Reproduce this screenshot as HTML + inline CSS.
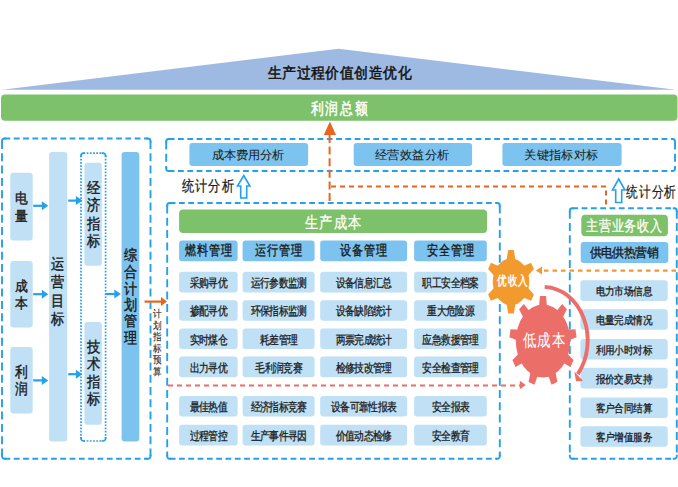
<!DOCTYPE html>
<html><head><meta charset="utf-8"><style>
html,body{margin:0;padding:0;background:#fff;}
svg{display:block;font-family:"Liberation Sans",sans-serif;}
</style></head><body>
<svg width="678" height="487" viewBox="0 0 678 487">
<rect width="678" height="487" fill="#fff"/>
<polygon points="2,89.8 338.5,48.8 676,89.8" fill="#9fbae2"/>
<text x="274.75" y="77.74" font-size="14.69" fill="#111" text-anchor="middle" textLength="13.83" lengthAdjust="spacingAndGlyphs" stroke="#111" stroke-width="0.5">生</text>
<text x="289.16" y="77.74" font-size="14.69" fill="#111" text-anchor="middle" textLength="13.83" lengthAdjust="spacingAndGlyphs" stroke="#111" stroke-width="0.5">产</text>
<text x="303.57" y="77.74" font-size="14.69" fill="#111" text-anchor="middle" textLength="13.83" lengthAdjust="spacingAndGlyphs" stroke="#111" stroke-width="0.5">过</text>
<text x="317.98" y="77.74" font-size="14.69" fill="#111" text-anchor="middle" textLength="13.83" lengthAdjust="spacingAndGlyphs" stroke="#111" stroke-width="0.5">程</text>
<text x="332.39" y="77.74" font-size="14.69" fill="#111" text-anchor="middle" textLength="13.83" lengthAdjust="spacingAndGlyphs" stroke="#111" stroke-width="0.5">价</text>
<text x="346.81" y="77.74" font-size="14.69" fill="#111" text-anchor="middle" textLength="13.83" lengthAdjust="spacingAndGlyphs" stroke="#111" stroke-width="0.5">值</text>
<text x="361.22" y="77.74" font-size="14.69" fill="#111" text-anchor="middle" textLength="13.83" lengthAdjust="spacingAndGlyphs" stroke="#111" stroke-width="0.5">创</text>
<text x="375.63" y="77.74" font-size="14.69" fill="#111" text-anchor="middle" textLength="13.83" lengthAdjust="spacingAndGlyphs" stroke="#111" stroke-width="0.5">造</text>
<text x="390.04" y="77.74" font-size="14.69" fill="#111" text-anchor="middle" textLength="13.83" lengthAdjust="spacingAndGlyphs" stroke="#111" stroke-width="0.5">优</text>
<text x="404.45" y="77.74" font-size="14.69" fill="#111" text-anchor="middle" textLength="13.83" lengthAdjust="spacingAndGlyphs" stroke="#111" stroke-width="0.5">化</text>
<rect x="1" y="94.6" width="676.5" height="26.2" rx="4" fill="#7dc16a"/>
<text x="317.20" y="114.16" font-size="16.15" fill="#fff" text-anchor="middle" textLength="12.77" lengthAdjust="spacingAndGlyphs" stroke="#fff" stroke-width="0.5">利</text>
<text x="331.80" y="114.16" font-size="16.15" fill="#fff" text-anchor="middle" textLength="12.77" lengthAdjust="spacingAndGlyphs" stroke="#fff" stroke-width="0.5">润</text>
<text x="346.40" y="114.16" font-size="16.15" fill="#fff" text-anchor="middle" textLength="12.77" lengthAdjust="spacingAndGlyphs" stroke="#fff" stroke-width="0.5">总</text>
<text x="361.00" y="114.16" font-size="16.15" fill="#fff" text-anchor="middle" textLength="12.77" lengthAdjust="spacingAndGlyphs" stroke="#fff" stroke-width="0.5">额</text>
<path d="M4.5,138.5 H148.0 M4.5,458.8 H148.0" fill="none" stroke="#25a0ea" stroke-width="1.9" stroke-dasharray="5.8 3.5"/>
<path d="M2,141.0 V456.3 M150.5,141.0 V456.3" fill="none" stroke="#25a0ea" stroke-width="1.9" stroke-dasharray="8 4.3"/>
<path d="M2,142.5 V141.0 A2.5,2.5 0 0 1 4.5,138.5 H6.0 M146.5,138.5 H148.0 A2.5,2.5 0 0 1 150.5,141.0 V142.5 M150.5,454.8 V456.3 A2.5,2.5 0 0 1 148.0,458.8 H146.5 M6.0,458.8 H4.5 A2.5,2.5 0 0 1 2,456.3 V454.8" fill="none" stroke="#25a0ea" stroke-width="1.9"/>
<rect x="10.3" y="172.8" width="22.4" height="67.7" rx="3" fill="#bfe0f5"/>
<rect x="10.3" y="261" width="22.4" height="66.4" rx="3" fill="#bfe0f5"/>
<rect x="10.3" y="347" width="22.4" height="66.5" rx="3" fill="#bfe0f5"/>
<rect x="49.1" y="152" width="18.2" height="289.4" rx="3" fill="#bfe0f5"/>
<rect x="84.4" y="162.8" width="17.4" height="102.9" rx="3" fill="#bfe0f5"/>
<rect x="84.4" y="322" width="17.4" height="102.8" rx="3" fill="#bfe0f5"/>
<rect x="121.6" y="151.9" width="17.7" height="289.5" rx="3" fill="#7cc4ef"/>
<path d="M83.5,153.1 H103.1 M83.5,441 H103.1" fill="none" stroke="#25a0ea" stroke-width="1.7" stroke-dasharray="1.7 1.5"/>
<path d="M81,155.6 V438.5 M105.6,155.6 V438.5" fill="none" stroke="#25a0ea" stroke-width="1.7" stroke-dasharray="1.7 1.5"/>
<path d="M81,157.1 V155.6 A2.5,2.5 0 0 1 83.5,153.1 H85.0 M101.6,153.1 H103.1 A2.5,2.5 0 0 1 105.6,155.6 V157.1 M105.6,437.0 V438.5 A2.5,2.5 0 0 1 103.1,441 H101.6 M85.0,441 H83.5 A2.5,2.5 0 0 1 81,438.5 V437.0" fill="none" stroke="#25a0ea" stroke-width="1.7"/>
<text x="21.80" y="203.18" font-size="13.54" fill="#1a1a1a" text-anchor="middle" textLength="12.77" lengthAdjust="spacingAndGlyphs" stroke="#1a1a1a" stroke-width="0.4">电</text>
<text x="21.80" y="220.68" font-size="13.54" fill="#1a1a1a" text-anchor="middle" textLength="12.77" lengthAdjust="spacingAndGlyphs" stroke="#1a1a1a" stroke-width="0.4">量</text>
<text x="21.80" y="290.77" font-size="13.54" fill="#1a1a1a" text-anchor="middle" textLength="12.77" lengthAdjust="spacingAndGlyphs" stroke="#1a1a1a" stroke-width="0.4">成</text>
<text x="21.80" y="307.98" font-size="13.54" fill="#1a1a1a" text-anchor="middle" textLength="12.77" lengthAdjust="spacingAndGlyphs" stroke="#1a1a1a" stroke-width="0.4">本</text>
<text x="21.80" y="377.25" font-size="14.58" fill="#1a1a1a" text-anchor="middle" textLength="12.77" lengthAdjust="spacingAndGlyphs" stroke="#1a1a1a" stroke-width="0.4">利</text>
<text x="21.80" y="394.15" font-size="14.58" fill="#1a1a1a" text-anchor="middle" textLength="12.77" lengthAdjust="spacingAndGlyphs" stroke="#1a1a1a" stroke-width="0.4">润</text>
<text x="57.80" y="269.25" font-size="14.58" fill="#1a1a1a" text-anchor="middle" textLength="13.30" lengthAdjust="spacingAndGlyphs" stroke="#1a1a1a" stroke-width="0.4">运</text>
<text x="57.80" y="286.85" font-size="14.58" fill="#1a1a1a" text-anchor="middle" textLength="13.30" lengthAdjust="spacingAndGlyphs" stroke="#1a1a1a" stroke-width="0.4">营</text>
<text x="57.80" y="305.65" font-size="14.58" fill="#1a1a1a" text-anchor="middle" textLength="13.30" lengthAdjust="spacingAndGlyphs" stroke="#1a1a1a" stroke-width="0.4">目</text>
<text x="57.80" y="323.75" font-size="14.58" fill="#1a1a1a" text-anchor="middle" textLength="13.30" lengthAdjust="spacingAndGlyphs" stroke="#1a1a1a" stroke-width="0.4">标</text>
<text x="93.60" y="192.91" font-size="14.90" fill="#1a1a1a" text-anchor="middle" textLength="13.30" lengthAdjust="spacingAndGlyphs" stroke="#1a1a1a" stroke-width="0.4">经</text>
<text x="93.60" y="210.31" font-size="14.90" fill="#1a1a1a" text-anchor="middle" textLength="13.30" lengthAdjust="spacingAndGlyphs" stroke="#1a1a1a" stroke-width="0.4">济</text>
<text x="93.60" y="228.81" font-size="14.90" fill="#1a1a1a" text-anchor="middle" textLength="13.30" lengthAdjust="spacingAndGlyphs" stroke="#1a1a1a" stroke-width="0.4">指</text>
<text x="93.60" y="246.21" font-size="14.90" fill="#1a1a1a" text-anchor="middle" textLength="13.30" lengthAdjust="spacingAndGlyphs" stroke="#1a1a1a" stroke-width="0.4">标</text>
<text x="93.60" y="352.01" font-size="14.90" fill="#1a1a1a" text-anchor="middle" textLength="13.30" lengthAdjust="spacingAndGlyphs" stroke="#1a1a1a" stroke-width="0.4">技</text>
<text x="93.60" y="369.41" font-size="14.90" fill="#1a1a1a" text-anchor="middle" textLength="13.30" lengthAdjust="spacingAndGlyphs" stroke="#1a1a1a" stroke-width="0.4">术</text>
<text x="93.60" y="386.91" font-size="14.90" fill="#1a1a1a" text-anchor="middle" textLength="13.30" lengthAdjust="spacingAndGlyphs" stroke="#1a1a1a" stroke-width="0.4">指</text>
<text x="93.60" y="404.31" font-size="14.90" fill="#1a1a1a" text-anchor="middle" textLength="13.30" lengthAdjust="spacingAndGlyphs" stroke="#1a1a1a" stroke-width="0.4">标</text>
<text x="130.70" y="259.75" font-size="14.58" fill="#1a1a1a" text-anchor="middle" textLength="13.09" lengthAdjust="spacingAndGlyphs" stroke="#1a1a1a" stroke-width="0.4">综</text>
<text x="130.70" y="276.75" font-size="14.58" fill="#1a1a1a" text-anchor="middle" textLength="13.09" lengthAdjust="spacingAndGlyphs" stroke="#1a1a1a" stroke-width="0.4">合</text>
<text x="130.70" y="293.75" font-size="14.58" fill="#1a1a1a" text-anchor="middle" textLength="13.09" lengthAdjust="spacingAndGlyphs" stroke="#1a1a1a" stroke-width="0.4">计</text>
<text x="130.70" y="310.25" font-size="14.58" fill="#1a1a1a" text-anchor="middle" textLength="13.09" lengthAdjust="spacingAndGlyphs" stroke="#1a1a1a" stroke-width="0.4">划</text>
<text x="130.70" y="326.45" font-size="14.58" fill="#1a1a1a" text-anchor="middle" textLength="13.09" lengthAdjust="spacingAndGlyphs" stroke="#1a1a1a" stroke-width="0.4">管</text>
<text x="130.70" y="343.05" font-size="14.58" fill="#1a1a1a" text-anchor="middle" textLength="13.09" lengthAdjust="spacingAndGlyphs" stroke="#1a1a1a" stroke-width="0.4">理</text>
<line x1="33.2" y1="205.8" x2="42.3" y2="205.8" stroke="#25a0ea" stroke-width="2.2"/>
<polygon points="48.3,205.8 41.8,201.3 41.8,210.3" fill="#25a0ea"/>
<line x1="33.2" y1="294.2" x2="42.3" y2="294.2" stroke="#25a0ea" stroke-width="2.2"/>
<polygon points="48.3,294.2 41.8,289.7 41.8,298.7" fill="#25a0ea"/>
<line x1="33.2" y1="380.4" x2="42.3" y2="380.4" stroke="#25a0ea" stroke-width="2.2"/>
<polygon points="48.3,380.4 41.8,375.9 41.8,384.9" fill="#25a0ea"/>
<line x1="68.2" y1="200.6" x2="76.4" y2="200.6" stroke="#25a0ea" stroke-width="2.2"/>
<polygon points="82.4,200.6 75.9,196.1 75.9,205.1" fill="#25a0ea"/>
<line x1="68.2" y1="374.2" x2="76.4" y2="374.2" stroke="#25a0ea" stroke-width="2.2"/>
<polygon points="82.4,374.2 75.9,369.7 75.9,378.7" fill="#25a0ea"/>
<line x1="105.8" y1="294" x2="114.8" y2="294" stroke="#25a0ea" stroke-width="2.2"/>
<polygon points="120.8,294 114.3,289.5 114.3,298.5" fill="#25a0ea"/>
<text x="156.80" y="317.12" font-size="9.79" fill="#2a2a2a" text-anchor="middle" textLength="8.51" lengthAdjust="spacingAndGlyphs" stroke="#2a2a2a" stroke-width="0.15">计</text>
<text x="156.80" y="328.62" font-size="9.79" fill="#2a2a2a" text-anchor="middle" textLength="8.51" lengthAdjust="spacingAndGlyphs" stroke="#2a2a2a" stroke-width="0.15">划</text>
<text x="156.80" y="340.12" font-size="9.79" fill="#2a2a2a" text-anchor="middle" textLength="8.51" lengthAdjust="spacingAndGlyphs" stroke="#2a2a2a" stroke-width="0.15">指</text>
<text x="156.80" y="351.62" font-size="9.79" fill="#2a2a2a" text-anchor="middle" textLength="8.51" lengthAdjust="spacingAndGlyphs" stroke="#2a2a2a" stroke-width="0.15">标</text>
<text x="156.80" y="363.12" font-size="9.79" fill="#2a2a2a" text-anchor="middle" textLength="8.51" lengthAdjust="spacingAndGlyphs" stroke="#2a2a2a" stroke-width="0.15">预</text>
<text x="156.80" y="374.62" font-size="9.79" fill="#2a2a2a" text-anchor="middle" textLength="8.51" lengthAdjust="spacingAndGlyphs" stroke="#2a2a2a" stroke-width="0.15">算</text>
<line x1="144.5" y1="301.6" x2="161.5" y2="301.6" stroke="#e8651f" stroke-width="2.2"/>
<polygon points="167,301.6 161,297.1 161,306.1" fill="#e8651f"/>
<path d="M168.7,139 H672.5 M168.7,171 H672.5" fill="none" stroke="#25a0ea" stroke-width="1.9" stroke-dasharray="5.8 3.5"/>
<path d="M166.2,141.5 V168.5 M675,141.5 V168.5" fill="none" stroke="#25a0ea" stroke-width="1.9" stroke-dasharray="8 4.3"/>
<path d="M166.2,143.0 V141.5 A2.5,2.5 0 0 1 168.7,139 H170.2 M671.0,139 H672.5 A2.5,2.5 0 0 1 675,141.5 V143.0 M675,167.0 V168.5 A2.5,2.5 0 0 1 672.5,171 H671.0 M170.2,171 H168.7 A2.5,2.5 0 0 1 166.2,168.5 V167.0" fill="none" stroke="#25a0ea" stroke-width="1.9"/>
<rect x="189.4" y="143" width="118.7" height="22.9" rx="3" fill="#7cc4ef"/>
<rect x="353.7" y="143" width="118.4" height="22.9" rx="3" fill="#7cc4ef"/>
<rect x="502.4" y="143" width="119.2" height="22.9" rx="3" fill="#7cc4ef"/>
<text x="217.65" y="159.31" font-size="12.40" fill="#1a1a1a" text-anchor="middle" textLength="12.23" lengthAdjust="spacingAndGlyphs" stroke="#1a1a1a" stroke-width="0.05">成</text>
<text x="229.77" y="159.31" font-size="12.40" fill="#1a1a1a" text-anchor="middle" textLength="12.23" lengthAdjust="spacingAndGlyphs" stroke="#1a1a1a" stroke-width="0.05">本</text>
<text x="241.89" y="159.31" font-size="12.40" fill="#1a1a1a" text-anchor="middle" textLength="12.23" lengthAdjust="spacingAndGlyphs" stroke="#1a1a1a" stroke-width="0.05">费</text>
<text x="254.01" y="159.31" font-size="12.40" fill="#1a1a1a" text-anchor="middle" textLength="12.23" lengthAdjust="spacingAndGlyphs" stroke="#1a1a1a" stroke-width="0.05">用</text>
<text x="266.13" y="159.31" font-size="12.40" fill="#1a1a1a" text-anchor="middle" textLength="12.23" lengthAdjust="spacingAndGlyphs" stroke="#1a1a1a" stroke-width="0.05">分</text>
<text x="278.25" y="159.31" font-size="12.40" fill="#1a1a1a" text-anchor="middle" textLength="12.23" lengthAdjust="spacingAndGlyphs" stroke="#1a1a1a" stroke-width="0.05">析</text>
<text x="381.15" y="159.31" font-size="12.40" fill="#1a1a1a" text-anchor="middle" textLength="12.23" lengthAdjust="spacingAndGlyphs" stroke="#1a1a1a" stroke-width="0.05">经</text>
<text x="393.57" y="159.31" font-size="12.40" fill="#1a1a1a" text-anchor="middle" textLength="12.23" lengthAdjust="spacingAndGlyphs" stroke="#1a1a1a" stroke-width="0.05">营</text>
<text x="405.99" y="159.31" font-size="12.40" fill="#1a1a1a" text-anchor="middle" textLength="12.23" lengthAdjust="spacingAndGlyphs" stroke="#1a1a1a" stroke-width="0.05">效</text>
<text x="418.41" y="159.31" font-size="12.40" fill="#1a1a1a" text-anchor="middle" textLength="12.23" lengthAdjust="spacingAndGlyphs" stroke="#1a1a1a" stroke-width="0.05">益</text>
<text x="430.83" y="159.31" font-size="12.40" fill="#1a1a1a" text-anchor="middle" textLength="12.23" lengthAdjust="spacingAndGlyphs" stroke="#1a1a1a" stroke-width="0.05">分</text>
<text x="443.25" y="159.31" font-size="12.40" fill="#1a1a1a" text-anchor="middle" textLength="12.23" lengthAdjust="spacingAndGlyphs" stroke="#1a1a1a" stroke-width="0.05">析</text>
<text x="530.55" y="159.31" font-size="12.40" fill="#1a1a1a" text-anchor="middle" textLength="12.23" lengthAdjust="spacingAndGlyphs" stroke="#1a1a1a" stroke-width="0.05">关</text>
<text x="542.89" y="159.31" font-size="12.40" fill="#1a1a1a" text-anchor="middle" textLength="12.23" lengthAdjust="spacingAndGlyphs" stroke="#1a1a1a" stroke-width="0.05">键</text>
<text x="555.23" y="159.31" font-size="12.40" fill="#1a1a1a" text-anchor="middle" textLength="12.23" lengthAdjust="spacingAndGlyphs" stroke="#1a1a1a" stroke-width="0.05">指</text>
<text x="567.57" y="159.31" font-size="12.40" fill="#1a1a1a" text-anchor="middle" textLength="12.23" lengthAdjust="spacingAndGlyphs" stroke="#1a1a1a" stroke-width="0.05">标</text>
<text x="579.91" y="159.31" font-size="12.40" fill="#1a1a1a" text-anchor="middle" textLength="12.23" lengthAdjust="spacingAndGlyphs" stroke="#1a1a1a" stroke-width="0.05">对</text>
<text x="592.25" y="159.31" font-size="12.40" fill="#1a1a1a" text-anchor="middle" textLength="12.23" lengthAdjust="spacingAndGlyphs" stroke="#1a1a1a" stroke-width="0.05">标</text>
<text x="188.05" y="191.22" font-size="14.79" fill="#1a1a1a" text-anchor="middle" textLength="12.23" lengthAdjust="spacingAndGlyphs" stroke="#1a1a1a" stroke-width="0.25">统</text>
<text x="201.32" y="191.22" font-size="14.79" fill="#1a1a1a" text-anchor="middle" textLength="12.23" lengthAdjust="spacingAndGlyphs" stroke="#1a1a1a" stroke-width="0.25">计</text>
<text x="214.58" y="191.22" font-size="14.79" fill="#1a1a1a" text-anchor="middle" textLength="12.23" lengthAdjust="spacingAndGlyphs" stroke="#1a1a1a" stroke-width="0.25">分</text>
<text x="227.85" y="191.22" font-size="14.79" fill="#1a1a1a" text-anchor="middle" textLength="12.23" lengthAdjust="spacingAndGlyphs" stroke="#1a1a1a" stroke-width="0.25">析</text>
<text x="632.10" y="197.18" font-size="15.21" fill="#1a1a1a" text-anchor="middle" textLength="11.70" lengthAdjust="spacingAndGlyphs" stroke="#1a1a1a" stroke-width="0.2">统</text>
<text x="644.83" y="197.18" font-size="15.21" fill="#1a1a1a" text-anchor="middle" textLength="11.70" lengthAdjust="spacingAndGlyphs" stroke="#1a1a1a" stroke-width="0.2">计</text>
<text x="657.57" y="197.18" font-size="15.21" fill="#1a1a1a" text-anchor="middle" textLength="11.70" lengthAdjust="spacingAndGlyphs" stroke="#1a1a1a" stroke-width="0.2">分</text>
<text x="670.30" y="197.18" font-size="15.21" fill="#1a1a1a" text-anchor="middle" textLength="11.70" lengthAdjust="spacingAndGlyphs" stroke="#1a1a1a" stroke-width="0.2">析</text>
<path d="M243.7,175.5 L249.89999999999998,186 L246.7,186 L246.7,198 L240.7,198 L240.7,186 L237.5,186 Z" fill="#fff" stroke="#25a0ea" stroke-width="1.6" stroke-linejoin="miter"/>
<path d="M618.7,179 L624.9000000000001,190 L621.7,190 L621.7,202.5 L615.7,202.5 L615.7,190 L612.5,190 Z" fill="#fff" stroke="#25a0ea" stroke-width="1.6" stroke-linejoin="miter"/>
<polygon points="329.9,121.6 323.8,135 336,135" fill="#e8651f"/>
<line x1="329.6" y1="135" x2="329.6" y2="202.5" stroke="#e8651f" stroke-width="2" stroke-dasharray="8 3.6"/>
<polyline points="331,186.6 606,186.6 606,207.5" fill="none" stroke="#e8651f" stroke-width="2" stroke-dasharray="5 4"/>
<path d="M169.7,203 H497.3 M169.7,458.8 H497.3" fill="none" stroke="#25a0ea" stroke-width="1.9" stroke-dasharray="5.8 3.5"/>
<path d="M167.2,205.5 V456.3 M499.8,205.5 V456.3" fill="none" stroke="#25a0ea" stroke-width="1.9" stroke-dasharray="8 4.3"/>
<path d="M167.2,207.0 V205.5 A2.5,2.5 0 0 1 169.7,203 H171.2 M495.8,203 H497.3 A2.5,2.5 0 0 1 499.8,205.5 V207.0 M499.8,454.8 V456.3 A2.5,2.5 0 0 1 497.3,458.8 H495.8 M171.2,458.8 H169.7 A2.5,2.5 0 0 1 167.2,456.3 V454.8" fill="none" stroke="#25a0ea" stroke-width="1.9"/>
<rect x="179.1" y="209.6" width="308.0" height="23.4" rx="4" fill="#7dc16a"/>
<text x="311.10" y="228.25" font-size="16.25" fill="#fff" text-anchor="middle" textLength="13.09" lengthAdjust="spacingAndGlyphs" stroke="#fff" stroke-width="0.3">生</text>
<text x="325.70" y="228.25" font-size="16.25" fill="#fff" text-anchor="middle" textLength="13.09" lengthAdjust="spacingAndGlyphs" stroke="#fff" stroke-width="0.3">产</text>
<text x="340.30" y="228.25" font-size="16.25" fill="#fff" text-anchor="middle" textLength="13.09" lengthAdjust="spacingAndGlyphs" stroke="#fff" stroke-width="0.3">成</text>
<text x="354.90" y="228.25" font-size="16.25" fill="#fff" text-anchor="middle" textLength="13.09" lengthAdjust="spacingAndGlyphs" stroke="#fff" stroke-width="0.3">本</text>
<rect x="179.1" y="240.6" width="58.5" height="20.6" rx="3" fill="#7cc4ef"/>
<text x="190.60" y="255.28" font-size="14.38" fill="#1a1a1a" text-anchor="middle" textLength="11.17" lengthAdjust="spacingAndGlyphs" stroke="#1a1a1a" stroke-width="0.35">燃</text>
<text x="202.43" y="255.28" font-size="14.38" fill="#1a1a1a" text-anchor="middle" textLength="11.17" lengthAdjust="spacingAndGlyphs" stroke="#1a1a1a" stroke-width="0.35">料</text>
<text x="214.27" y="255.28" font-size="14.38" fill="#1a1a1a" text-anchor="middle" textLength="11.17" lengthAdjust="spacingAndGlyphs" stroke="#1a1a1a" stroke-width="0.35">管</text>
<text x="226.10" y="255.28" font-size="14.38" fill="#1a1a1a" text-anchor="middle" textLength="11.17" lengthAdjust="spacingAndGlyphs" stroke="#1a1a1a" stroke-width="0.35">理</text>
<rect x="242.6" y="240.6" width="72.0" height="20.6" rx="3" fill="#7cc4ef"/>
<text x="260.85" y="255.28" font-size="14.38" fill="#1a1a1a" text-anchor="middle" textLength="11.17" lengthAdjust="spacingAndGlyphs" stroke="#1a1a1a" stroke-width="0.35">运</text>
<text x="272.68" y="255.28" font-size="14.38" fill="#1a1a1a" text-anchor="middle" textLength="11.17" lengthAdjust="spacingAndGlyphs" stroke="#1a1a1a" stroke-width="0.35">行</text>
<text x="284.52" y="255.28" font-size="14.38" fill="#1a1a1a" text-anchor="middle" textLength="11.17" lengthAdjust="spacingAndGlyphs" stroke="#1a1a1a" stroke-width="0.35">管</text>
<text x="296.35" y="255.28" font-size="14.38" fill="#1a1a1a" text-anchor="middle" textLength="11.17" lengthAdjust="spacingAndGlyphs" stroke="#1a1a1a" stroke-width="0.35">理</text>
<rect x="320.2" y="240.6" width="86.9" height="20.6" rx="3" fill="#7cc4ef"/>
<text x="345.90" y="255.28" font-size="14.38" fill="#1a1a1a" text-anchor="middle" textLength="11.17" lengthAdjust="spacingAndGlyphs" stroke="#1a1a1a" stroke-width="0.35">设</text>
<text x="357.73" y="255.28" font-size="14.38" fill="#1a1a1a" text-anchor="middle" textLength="11.17" lengthAdjust="spacingAndGlyphs" stroke="#1a1a1a" stroke-width="0.35">备</text>
<text x="369.57" y="255.28" font-size="14.38" fill="#1a1a1a" text-anchor="middle" textLength="11.17" lengthAdjust="spacingAndGlyphs" stroke="#1a1a1a" stroke-width="0.35">管</text>
<text x="381.40" y="255.28" font-size="14.38" fill="#1a1a1a" text-anchor="middle" textLength="11.17" lengthAdjust="spacingAndGlyphs" stroke="#1a1a1a" stroke-width="0.35">理</text>
<rect x="414.1" y="240.6" width="72.7" height="20.6" rx="3" fill="#7cc4ef"/>
<text x="432.70" y="255.28" font-size="14.38" fill="#1a1a1a" text-anchor="middle" textLength="11.17" lengthAdjust="spacingAndGlyphs" stroke="#1a1a1a" stroke-width="0.35">安</text>
<text x="444.53" y="255.28" font-size="14.38" fill="#1a1a1a" text-anchor="middle" textLength="11.17" lengthAdjust="spacingAndGlyphs" stroke="#1a1a1a" stroke-width="0.35">全</text>
<text x="456.37" y="255.28" font-size="14.38" fill="#1a1a1a" text-anchor="middle" textLength="11.17" lengthAdjust="spacingAndGlyphs" stroke="#1a1a1a" stroke-width="0.35">管</text>
<text x="468.20" y="255.28" font-size="14.38" fill="#1a1a1a" text-anchor="middle" textLength="11.17" lengthAdjust="spacingAndGlyphs" stroke="#1a1a1a" stroke-width="0.35">理</text>
<rect x="179.1" y="271.8" width="58.5" height="20.6" rx="3" fill="#bfe0f5"/>
<text x="194.62" y="286.98" font-size="11.88" fill="#1a1a1a" text-anchor="middle" textLength="9.79" lengthAdjust="spacingAndGlyphs" stroke="#1a1a1a" stroke-width="0.3">采</text>
<text x="203.97" y="286.98" font-size="11.88" fill="#1a1a1a" text-anchor="middle" textLength="9.79" lengthAdjust="spacingAndGlyphs" stroke="#1a1a1a" stroke-width="0.3">购</text>
<text x="213.32" y="286.98" font-size="11.88" fill="#1a1a1a" text-anchor="middle" textLength="9.79" lengthAdjust="spacingAndGlyphs" stroke="#1a1a1a" stroke-width="0.3">寻</text>
<text x="222.68" y="286.98" font-size="11.88" fill="#1a1a1a" text-anchor="middle" textLength="9.79" lengthAdjust="spacingAndGlyphs" stroke="#1a1a1a" stroke-width="0.3">优</text>
<rect x="242.6" y="271.8" width="72.0" height="20.6" rx="3" fill="#bfe0f5"/>
<text x="255.53" y="286.98" font-size="11.88" fill="#1a1a1a" text-anchor="middle" textLength="9.79" lengthAdjust="spacingAndGlyphs" stroke="#1a1a1a" stroke-width="0.3">运</text>
<text x="264.88" y="286.98" font-size="11.88" fill="#1a1a1a" text-anchor="middle" textLength="9.79" lengthAdjust="spacingAndGlyphs" stroke="#1a1a1a" stroke-width="0.3">行</text>
<text x="274.23" y="286.98" font-size="11.88" fill="#1a1a1a" text-anchor="middle" textLength="9.79" lengthAdjust="spacingAndGlyphs" stroke="#1a1a1a" stroke-width="0.3">参</text>
<text x="283.58" y="286.98" font-size="11.88" fill="#1a1a1a" text-anchor="middle" textLength="9.79" lengthAdjust="spacingAndGlyphs" stroke="#1a1a1a" stroke-width="0.3">数</text>
<text x="292.93" y="286.98" font-size="11.88" fill="#1a1a1a" text-anchor="middle" textLength="9.79" lengthAdjust="spacingAndGlyphs" stroke="#1a1a1a" stroke-width="0.3">监</text>
<text x="302.28" y="286.98" font-size="11.88" fill="#1a1a1a" text-anchor="middle" textLength="9.79" lengthAdjust="spacingAndGlyphs" stroke="#1a1a1a" stroke-width="0.3">测</text>
<rect x="320.2" y="271.8" width="86.9" height="20.6" rx="3" fill="#bfe0f5"/>
<text x="340.57" y="286.98" font-size="11.88" fill="#1a1a1a" text-anchor="middle" textLength="9.79" lengthAdjust="spacingAndGlyphs" stroke="#1a1a1a" stroke-width="0.3">设</text>
<text x="349.93" y="286.98" font-size="11.88" fill="#1a1a1a" text-anchor="middle" textLength="9.79" lengthAdjust="spacingAndGlyphs" stroke="#1a1a1a" stroke-width="0.3">备</text>
<text x="359.27" y="286.98" font-size="11.88" fill="#1a1a1a" text-anchor="middle" textLength="9.79" lengthAdjust="spacingAndGlyphs" stroke="#1a1a1a" stroke-width="0.3">信</text>
<text x="368.62" y="286.98" font-size="11.88" fill="#1a1a1a" text-anchor="middle" textLength="9.79" lengthAdjust="spacingAndGlyphs" stroke="#1a1a1a" stroke-width="0.3">息</text>
<text x="377.97" y="286.98" font-size="11.88" fill="#1a1a1a" text-anchor="middle" textLength="9.79" lengthAdjust="spacingAndGlyphs" stroke="#1a1a1a" stroke-width="0.3">汇</text>
<text x="387.32" y="286.98" font-size="11.88" fill="#1a1a1a" text-anchor="middle" textLength="9.79" lengthAdjust="spacingAndGlyphs" stroke="#1a1a1a" stroke-width="0.3">总</text>
<rect x="414.1" y="271.8" width="72.7" height="20.6" rx="3" fill="#bfe0f5"/>
<text x="427.38" y="286.98" font-size="11.88" fill="#1a1a1a" text-anchor="middle" textLength="9.79" lengthAdjust="spacingAndGlyphs" stroke="#1a1a1a" stroke-width="0.3">职</text>
<text x="436.73" y="286.98" font-size="11.88" fill="#1a1a1a" text-anchor="middle" textLength="9.79" lengthAdjust="spacingAndGlyphs" stroke="#1a1a1a" stroke-width="0.3">工</text>
<text x="446.08" y="286.98" font-size="11.88" fill="#1a1a1a" text-anchor="middle" textLength="9.79" lengthAdjust="spacingAndGlyphs" stroke="#1a1a1a" stroke-width="0.3">安</text>
<text x="455.43" y="286.98" font-size="11.88" fill="#1a1a1a" text-anchor="middle" textLength="9.79" lengthAdjust="spacingAndGlyphs" stroke="#1a1a1a" stroke-width="0.3">全</text>
<text x="464.78" y="286.98" font-size="11.88" fill="#1a1a1a" text-anchor="middle" textLength="9.79" lengthAdjust="spacingAndGlyphs" stroke="#1a1a1a" stroke-width="0.3">档</text>
<text x="474.13" y="286.98" font-size="11.88" fill="#1a1a1a" text-anchor="middle" textLength="9.79" lengthAdjust="spacingAndGlyphs" stroke="#1a1a1a" stroke-width="0.3">案</text>
<rect x="179.1" y="300.2" width="58.5" height="20.6" rx="3" fill="#bfe0f5"/>
<text x="194.62" y="315.38" font-size="11.88" fill="#1a1a1a" text-anchor="middle" textLength="9.79" lengthAdjust="spacingAndGlyphs" stroke="#1a1a1a" stroke-width="0.3">掺</text>
<text x="203.97" y="315.38" font-size="11.88" fill="#1a1a1a" text-anchor="middle" textLength="9.79" lengthAdjust="spacingAndGlyphs" stroke="#1a1a1a" stroke-width="0.3">配</text>
<text x="213.32" y="315.38" font-size="11.88" fill="#1a1a1a" text-anchor="middle" textLength="9.79" lengthAdjust="spacingAndGlyphs" stroke="#1a1a1a" stroke-width="0.3">寻</text>
<text x="222.68" y="315.38" font-size="11.88" fill="#1a1a1a" text-anchor="middle" textLength="9.79" lengthAdjust="spacingAndGlyphs" stroke="#1a1a1a" stroke-width="0.3">优</text>
<rect x="242.6" y="300.2" width="72.0" height="20.6" rx="3" fill="#bfe0f5"/>
<text x="255.53" y="315.38" font-size="11.88" fill="#1a1a1a" text-anchor="middle" textLength="9.79" lengthAdjust="spacingAndGlyphs" stroke="#1a1a1a" stroke-width="0.3">环</text>
<text x="264.88" y="315.38" font-size="11.88" fill="#1a1a1a" text-anchor="middle" textLength="9.79" lengthAdjust="spacingAndGlyphs" stroke="#1a1a1a" stroke-width="0.3">保</text>
<text x="274.23" y="315.38" font-size="11.88" fill="#1a1a1a" text-anchor="middle" textLength="9.79" lengthAdjust="spacingAndGlyphs" stroke="#1a1a1a" stroke-width="0.3">指</text>
<text x="283.58" y="315.38" font-size="11.88" fill="#1a1a1a" text-anchor="middle" textLength="9.79" lengthAdjust="spacingAndGlyphs" stroke="#1a1a1a" stroke-width="0.3">标</text>
<text x="292.93" y="315.38" font-size="11.88" fill="#1a1a1a" text-anchor="middle" textLength="9.79" lengthAdjust="spacingAndGlyphs" stroke="#1a1a1a" stroke-width="0.3">监</text>
<text x="302.28" y="315.38" font-size="11.88" fill="#1a1a1a" text-anchor="middle" textLength="9.79" lengthAdjust="spacingAndGlyphs" stroke="#1a1a1a" stroke-width="0.3">测</text>
<rect x="320.2" y="300.2" width="86.9" height="20.6" rx="3" fill="#bfe0f5"/>
<text x="340.57" y="315.38" font-size="11.88" fill="#1a1a1a" text-anchor="middle" textLength="9.79" lengthAdjust="spacingAndGlyphs" stroke="#1a1a1a" stroke-width="0.3">设</text>
<text x="349.93" y="315.38" font-size="11.88" fill="#1a1a1a" text-anchor="middle" textLength="9.79" lengthAdjust="spacingAndGlyphs" stroke="#1a1a1a" stroke-width="0.3">备</text>
<text x="359.27" y="315.38" font-size="11.88" fill="#1a1a1a" text-anchor="middle" textLength="9.79" lengthAdjust="spacingAndGlyphs" stroke="#1a1a1a" stroke-width="0.3">缺</text>
<text x="368.62" y="315.38" font-size="11.88" fill="#1a1a1a" text-anchor="middle" textLength="9.79" lengthAdjust="spacingAndGlyphs" stroke="#1a1a1a" stroke-width="0.3">陷</text>
<text x="377.97" y="315.38" font-size="11.88" fill="#1a1a1a" text-anchor="middle" textLength="9.79" lengthAdjust="spacingAndGlyphs" stroke="#1a1a1a" stroke-width="0.3">统</text>
<text x="387.32" y="315.38" font-size="11.88" fill="#1a1a1a" text-anchor="middle" textLength="9.79" lengthAdjust="spacingAndGlyphs" stroke="#1a1a1a" stroke-width="0.3">计</text>
<rect x="414.1" y="300.2" width="72.7" height="20.6" rx="3" fill="#bfe0f5"/>
<text x="432.05" y="315.38" font-size="11.88" fill="#1a1a1a" text-anchor="middle" textLength="9.79" lengthAdjust="spacingAndGlyphs" stroke="#1a1a1a" stroke-width="0.3">重</text>
<text x="441.40" y="315.38" font-size="11.88" fill="#1a1a1a" text-anchor="middle" textLength="9.79" lengthAdjust="spacingAndGlyphs" stroke="#1a1a1a" stroke-width="0.3">大</text>
<text x="450.75" y="315.38" font-size="11.88" fill="#1a1a1a" text-anchor="middle" textLength="9.79" lengthAdjust="spacingAndGlyphs" stroke="#1a1a1a" stroke-width="0.3">危</text>
<text x="460.10" y="315.38" font-size="11.88" fill="#1a1a1a" text-anchor="middle" textLength="9.79" lengthAdjust="spacingAndGlyphs" stroke="#1a1a1a" stroke-width="0.3">险</text>
<text x="469.45" y="315.38" font-size="11.88" fill="#1a1a1a" text-anchor="middle" textLength="9.79" lengthAdjust="spacingAndGlyphs" stroke="#1a1a1a" stroke-width="0.3">源</text>
<rect x="179.1" y="328.4" width="58.5" height="20.6" rx="3" fill="#bfe0f5"/>
<text x="194.62" y="343.57" font-size="11.88" fill="#1a1a1a" text-anchor="middle" textLength="9.79" lengthAdjust="spacingAndGlyphs" stroke="#1a1a1a" stroke-width="0.3">实</text>
<text x="203.97" y="343.57" font-size="11.88" fill="#1a1a1a" text-anchor="middle" textLength="9.79" lengthAdjust="spacingAndGlyphs" stroke="#1a1a1a" stroke-width="0.3">时</text>
<text x="213.32" y="343.57" font-size="11.88" fill="#1a1a1a" text-anchor="middle" textLength="9.79" lengthAdjust="spacingAndGlyphs" stroke="#1a1a1a" stroke-width="0.3">煤</text>
<text x="222.68" y="343.57" font-size="11.88" fill="#1a1a1a" text-anchor="middle" textLength="9.79" lengthAdjust="spacingAndGlyphs" stroke="#1a1a1a" stroke-width="0.3">仓</text>
<rect x="242.6" y="328.4" width="72.0" height="20.6" rx="3" fill="#bfe0f5"/>
<text x="264.88" y="343.57" font-size="11.88" fill="#1a1a1a" text-anchor="middle" textLength="9.79" lengthAdjust="spacingAndGlyphs" stroke="#1a1a1a" stroke-width="0.3">耗</text>
<text x="274.23" y="343.57" font-size="11.88" fill="#1a1a1a" text-anchor="middle" textLength="9.79" lengthAdjust="spacingAndGlyphs" stroke="#1a1a1a" stroke-width="0.3">差</text>
<text x="283.58" y="343.57" font-size="11.88" fill="#1a1a1a" text-anchor="middle" textLength="9.79" lengthAdjust="spacingAndGlyphs" stroke="#1a1a1a" stroke-width="0.3">管</text>
<text x="292.93" y="343.57" font-size="11.88" fill="#1a1a1a" text-anchor="middle" textLength="9.79" lengthAdjust="spacingAndGlyphs" stroke="#1a1a1a" stroke-width="0.3">理</text>
<rect x="320.2" y="328.4" width="86.9" height="20.6" rx="3" fill="#bfe0f5"/>
<text x="340.57" y="343.57" font-size="11.88" fill="#1a1a1a" text-anchor="middle" textLength="9.79" lengthAdjust="spacingAndGlyphs" stroke="#1a1a1a" stroke-width="0.3">两</text>
<text x="349.93" y="343.57" font-size="11.88" fill="#1a1a1a" text-anchor="middle" textLength="9.79" lengthAdjust="spacingAndGlyphs" stroke="#1a1a1a" stroke-width="0.3">票</text>
<text x="359.27" y="343.57" font-size="11.88" fill="#1a1a1a" text-anchor="middle" textLength="9.79" lengthAdjust="spacingAndGlyphs" stroke="#1a1a1a" stroke-width="0.3">完</text>
<text x="368.62" y="343.57" font-size="11.88" fill="#1a1a1a" text-anchor="middle" textLength="9.79" lengthAdjust="spacingAndGlyphs" stroke="#1a1a1a" stroke-width="0.3">成</text>
<text x="377.97" y="343.57" font-size="11.88" fill="#1a1a1a" text-anchor="middle" textLength="9.79" lengthAdjust="spacingAndGlyphs" stroke="#1a1a1a" stroke-width="0.3">统</text>
<text x="387.32" y="343.57" font-size="11.88" fill="#1a1a1a" text-anchor="middle" textLength="9.79" lengthAdjust="spacingAndGlyphs" stroke="#1a1a1a" stroke-width="0.3">计</text>
<rect x="414.1" y="328.4" width="72.7" height="20.6" rx="3" fill="#bfe0f5"/>
<text x="427.38" y="343.57" font-size="11.88" fill="#1a1a1a" text-anchor="middle" textLength="9.79" lengthAdjust="spacingAndGlyphs" stroke="#1a1a1a" stroke-width="0.3">应</text>
<text x="436.73" y="343.57" font-size="11.88" fill="#1a1a1a" text-anchor="middle" textLength="9.79" lengthAdjust="spacingAndGlyphs" stroke="#1a1a1a" stroke-width="0.3">急</text>
<text x="446.08" y="343.57" font-size="11.88" fill="#1a1a1a" text-anchor="middle" textLength="9.79" lengthAdjust="spacingAndGlyphs" stroke="#1a1a1a" stroke-width="0.3">救</text>
<text x="455.43" y="343.57" font-size="11.88" fill="#1a1a1a" text-anchor="middle" textLength="9.79" lengthAdjust="spacingAndGlyphs" stroke="#1a1a1a" stroke-width="0.3">援</text>
<text x="464.78" y="343.57" font-size="11.88" fill="#1a1a1a" text-anchor="middle" textLength="9.79" lengthAdjust="spacingAndGlyphs" stroke="#1a1a1a" stroke-width="0.3">管</text>
<text x="474.13" y="343.57" font-size="11.88" fill="#1a1a1a" text-anchor="middle" textLength="9.79" lengthAdjust="spacingAndGlyphs" stroke="#1a1a1a" stroke-width="0.3">理</text>
<rect x="179.1" y="356.6" width="58.5" height="20.6" rx="3" fill="#bfe0f5"/>
<text x="194.62" y="371.78" font-size="11.88" fill="#1a1a1a" text-anchor="middle" textLength="9.79" lengthAdjust="spacingAndGlyphs" stroke="#1a1a1a" stroke-width="0.3">出</text>
<text x="203.97" y="371.78" font-size="11.88" fill="#1a1a1a" text-anchor="middle" textLength="9.79" lengthAdjust="spacingAndGlyphs" stroke="#1a1a1a" stroke-width="0.3">力</text>
<text x="213.32" y="371.78" font-size="11.88" fill="#1a1a1a" text-anchor="middle" textLength="9.79" lengthAdjust="spacingAndGlyphs" stroke="#1a1a1a" stroke-width="0.3">寻</text>
<text x="222.68" y="371.78" font-size="11.88" fill="#1a1a1a" text-anchor="middle" textLength="9.79" lengthAdjust="spacingAndGlyphs" stroke="#1a1a1a" stroke-width="0.3">优</text>
<rect x="242.6" y="356.6" width="72.0" height="20.6" rx="3" fill="#bfe0f5"/>
<text x="260.20" y="371.78" font-size="11.88" fill="#1a1a1a" text-anchor="middle" textLength="9.79" lengthAdjust="spacingAndGlyphs" stroke="#1a1a1a" stroke-width="0.3">毛</text>
<text x="269.55" y="371.78" font-size="11.88" fill="#1a1a1a" text-anchor="middle" textLength="9.79" lengthAdjust="spacingAndGlyphs" stroke="#1a1a1a" stroke-width="0.3">利</text>
<text x="278.90" y="371.78" font-size="11.88" fill="#1a1a1a" text-anchor="middle" textLength="9.79" lengthAdjust="spacingAndGlyphs" stroke="#1a1a1a" stroke-width="0.3">润</text>
<text x="288.25" y="371.78" font-size="11.88" fill="#1a1a1a" text-anchor="middle" textLength="9.79" lengthAdjust="spacingAndGlyphs" stroke="#1a1a1a" stroke-width="0.3">竞</text>
<text x="297.60" y="371.78" font-size="11.88" fill="#1a1a1a" text-anchor="middle" textLength="9.79" lengthAdjust="spacingAndGlyphs" stroke="#1a1a1a" stroke-width="0.3">赛</text>
<rect x="320.2" y="356.6" width="86.9" height="20.6" rx="3" fill="#bfe0f5"/>
<text x="340.57" y="371.78" font-size="11.88" fill="#1a1a1a" text-anchor="middle" textLength="9.79" lengthAdjust="spacingAndGlyphs" stroke="#1a1a1a" stroke-width="0.3">检</text>
<text x="349.93" y="371.78" font-size="11.88" fill="#1a1a1a" text-anchor="middle" textLength="9.79" lengthAdjust="spacingAndGlyphs" stroke="#1a1a1a" stroke-width="0.3">修</text>
<text x="359.27" y="371.78" font-size="11.88" fill="#1a1a1a" text-anchor="middle" textLength="9.79" lengthAdjust="spacingAndGlyphs" stroke="#1a1a1a" stroke-width="0.3">技</text>
<text x="368.62" y="371.78" font-size="11.88" fill="#1a1a1a" text-anchor="middle" textLength="9.79" lengthAdjust="spacingAndGlyphs" stroke="#1a1a1a" stroke-width="0.3">改</text>
<text x="377.97" y="371.78" font-size="11.88" fill="#1a1a1a" text-anchor="middle" textLength="9.79" lengthAdjust="spacingAndGlyphs" stroke="#1a1a1a" stroke-width="0.3">管</text>
<text x="387.32" y="371.78" font-size="11.88" fill="#1a1a1a" text-anchor="middle" textLength="9.79" lengthAdjust="spacingAndGlyphs" stroke="#1a1a1a" stroke-width="0.3">理</text>
<rect x="414.1" y="356.6" width="72.7" height="20.6" rx="3" fill="#bfe0f5"/>
<text x="427.38" y="371.78" font-size="11.88" fill="#1a1a1a" text-anchor="middle" textLength="9.79" lengthAdjust="spacingAndGlyphs" stroke="#1a1a1a" stroke-width="0.3">安</text>
<text x="436.73" y="371.78" font-size="11.88" fill="#1a1a1a" text-anchor="middle" textLength="9.79" lengthAdjust="spacingAndGlyphs" stroke="#1a1a1a" stroke-width="0.3">全</text>
<text x="446.08" y="371.78" font-size="11.88" fill="#1a1a1a" text-anchor="middle" textLength="9.79" lengthAdjust="spacingAndGlyphs" stroke="#1a1a1a" stroke-width="0.3">检</text>
<text x="455.43" y="371.78" font-size="11.88" fill="#1a1a1a" text-anchor="middle" textLength="9.79" lengthAdjust="spacingAndGlyphs" stroke="#1a1a1a" stroke-width="0.3">查</text>
<text x="464.78" y="371.78" font-size="11.88" fill="#1a1a1a" text-anchor="middle" textLength="9.79" lengthAdjust="spacingAndGlyphs" stroke="#1a1a1a" stroke-width="0.3">管</text>
<text x="474.13" y="371.78" font-size="11.88" fill="#1a1a1a" text-anchor="middle" textLength="9.79" lengthAdjust="spacingAndGlyphs" stroke="#1a1a1a" stroke-width="0.3">理</text>
<rect x="179.1" y="395.9" width="58.5" height="20.6" rx="3" fill="#bfe0f5"/>
<text x="194.62" y="411.07" font-size="11.88" fill="#1a1a1a" text-anchor="middle" textLength="9.79" lengthAdjust="spacingAndGlyphs" stroke="#1a1a1a" stroke-width="0.3">最</text>
<text x="203.97" y="411.07" font-size="11.88" fill="#1a1a1a" text-anchor="middle" textLength="9.79" lengthAdjust="spacingAndGlyphs" stroke="#1a1a1a" stroke-width="0.3">佳</text>
<text x="213.32" y="411.07" font-size="11.88" fill="#1a1a1a" text-anchor="middle" textLength="9.79" lengthAdjust="spacingAndGlyphs" stroke="#1a1a1a" stroke-width="0.3">热</text>
<text x="222.68" y="411.07" font-size="11.88" fill="#1a1a1a" text-anchor="middle" textLength="9.79" lengthAdjust="spacingAndGlyphs" stroke="#1a1a1a" stroke-width="0.3">值</text>
<rect x="242.6" y="395.9" width="72.0" height="20.6" rx="3" fill="#bfe0f5"/>
<text x="255.53" y="411.07" font-size="11.88" fill="#1a1a1a" text-anchor="middle" textLength="9.79" lengthAdjust="spacingAndGlyphs" stroke="#1a1a1a" stroke-width="0.3">经</text>
<text x="264.88" y="411.07" font-size="11.88" fill="#1a1a1a" text-anchor="middle" textLength="9.79" lengthAdjust="spacingAndGlyphs" stroke="#1a1a1a" stroke-width="0.3">济</text>
<text x="274.23" y="411.07" font-size="11.88" fill="#1a1a1a" text-anchor="middle" textLength="9.79" lengthAdjust="spacingAndGlyphs" stroke="#1a1a1a" stroke-width="0.3">指</text>
<text x="283.58" y="411.07" font-size="11.88" fill="#1a1a1a" text-anchor="middle" textLength="9.79" lengthAdjust="spacingAndGlyphs" stroke="#1a1a1a" stroke-width="0.3">标</text>
<text x="292.93" y="411.07" font-size="11.88" fill="#1a1a1a" text-anchor="middle" textLength="9.79" lengthAdjust="spacingAndGlyphs" stroke="#1a1a1a" stroke-width="0.3">竞</text>
<text x="302.28" y="411.07" font-size="11.88" fill="#1a1a1a" text-anchor="middle" textLength="9.79" lengthAdjust="spacingAndGlyphs" stroke="#1a1a1a" stroke-width="0.3">赛</text>
<rect x="320.2" y="395.9" width="86.9" height="20.6" rx="3" fill="#bfe0f5"/>
<text x="335.90" y="411.07" font-size="11.88" fill="#1a1a1a" text-anchor="middle" textLength="9.79" lengthAdjust="spacingAndGlyphs" stroke="#1a1a1a" stroke-width="0.3">设</text>
<text x="345.25" y="411.07" font-size="11.88" fill="#1a1a1a" text-anchor="middle" textLength="9.79" lengthAdjust="spacingAndGlyphs" stroke="#1a1a1a" stroke-width="0.3">备</text>
<text x="354.60" y="411.07" font-size="11.88" fill="#1a1a1a" text-anchor="middle" textLength="9.79" lengthAdjust="spacingAndGlyphs" stroke="#1a1a1a" stroke-width="0.3">可</text>
<text x="363.95" y="411.07" font-size="11.88" fill="#1a1a1a" text-anchor="middle" textLength="9.79" lengthAdjust="spacingAndGlyphs" stroke="#1a1a1a" stroke-width="0.3">靠</text>
<text x="373.30" y="411.07" font-size="11.88" fill="#1a1a1a" text-anchor="middle" textLength="9.79" lengthAdjust="spacingAndGlyphs" stroke="#1a1a1a" stroke-width="0.3">性</text>
<text x="382.65" y="411.07" font-size="11.88" fill="#1a1a1a" text-anchor="middle" textLength="9.79" lengthAdjust="spacingAndGlyphs" stroke="#1a1a1a" stroke-width="0.3">报</text>
<text x="392.00" y="411.07" font-size="11.88" fill="#1a1a1a" text-anchor="middle" textLength="9.79" lengthAdjust="spacingAndGlyphs" stroke="#1a1a1a" stroke-width="0.3">表</text>
<rect x="414.1" y="395.9" width="72.7" height="20.6" rx="3" fill="#bfe0f5"/>
<text x="436.73" y="411.07" font-size="11.88" fill="#1a1a1a" text-anchor="middle" textLength="9.79" lengthAdjust="spacingAndGlyphs" stroke="#1a1a1a" stroke-width="0.3">安</text>
<text x="446.08" y="411.07" font-size="11.88" fill="#1a1a1a" text-anchor="middle" textLength="9.79" lengthAdjust="spacingAndGlyphs" stroke="#1a1a1a" stroke-width="0.3">全</text>
<text x="455.43" y="411.07" font-size="11.88" fill="#1a1a1a" text-anchor="middle" textLength="9.79" lengthAdjust="spacingAndGlyphs" stroke="#1a1a1a" stroke-width="0.3">报</text>
<text x="464.78" y="411.07" font-size="11.88" fill="#1a1a1a" text-anchor="middle" textLength="9.79" lengthAdjust="spacingAndGlyphs" stroke="#1a1a1a" stroke-width="0.3">表</text>
<rect x="179.1" y="424.8" width="58.5" height="20.6" rx="3" fill="#bfe0f5"/>
<text x="194.62" y="439.98" font-size="11.88" fill="#1a1a1a" text-anchor="middle" textLength="9.79" lengthAdjust="spacingAndGlyphs" stroke="#1a1a1a" stroke-width="0.3">过</text>
<text x="203.97" y="439.98" font-size="11.88" fill="#1a1a1a" text-anchor="middle" textLength="9.79" lengthAdjust="spacingAndGlyphs" stroke="#1a1a1a" stroke-width="0.3">程</text>
<text x="213.32" y="439.98" font-size="11.88" fill="#1a1a1a" text-anchor="middle" textLength="9.79" lengthAdjust="spacingAndGlyphs" stroke="#1a1a1a" stroke-width="0.3">管</text>
<text x="222.68" y="439.98" font-size="11.88" fill="#1a1a1a" text-anchor="middle" textLength="9.79" lengthAdjust="spacingAndGlyphs" stroke="#1a1a1a" stroke-width="0.3">控</text>
<rect x="242.6" y="424.8" width="72.0" height="20.6" rx="3" fill="#bfe0f5"/>
<text x="255.53" y="439.98" font-size="11.88" fill="#1a1a1a" text-anchor="middle" textLength="9.79" lengthAdjust="spacingAndGlyphs" stroke="#1a1a1a" stroke-width="0.3">生</text>
<text x="264.88" y="439.98" font-size="11.88" fill="#1a1a1a" text-anchor="middle" textLength="9.79" lengthAdjust="spacingAndGlyphs" stroke="#1a1a1a" stroke-width="0.3">产</text>
<text x="274.23" y="439.98" font-size="11.88" fill="#1a1a1a" text-anchor="middle" textLength="9.79" lengthAdjust="spacingAndGlyphs" stroke="#1a1a1a" stroke-width="0.3">事</text>
<text x="283.58" y="439.98" font-size="11.88" fill="#1a1a1a" text-anchor="middle" textLength="9.79" lengthAdjust="spacingAndGlyphs" stroke="#1a1a1a" stroke-width="0.3">件</text>
<text x="292.93" y="439.98" font-size="11.88" fill="#1a1a1a" text-anchor="middle" textLength="9.79" lengthAdjust="spacingAndGlyphs" stroke="#1a1a1a" stroke-width="0.3">寻</text>
<text x="302.28" y="439.98" font-size="11.88" fill="#1a1a1a" text-anchor="middle" textLength="9.79" lengthAdjust="spacingAndGlyphs" stroke="#1a1a1a" stroke-width="0.3">因</text>
<rect x="320.2" y="424.8" width="86.9" height="20.6" rx="3" fill="#bfe0f5"/>
<text x="340.57" y="439.98" font-size="11.88" fill="#1a1a1a" text-anchor="middle" textLength="9.79" lengthAdjust="spacingAndGlyphs" stroke="#1a1a1a" stroke-width="0.3">价</text>
<text x="349.93" y="439.98" font-size="11.88" fill="#1a1a1a" text-anchor="middle" textLength="9.79" lengthAdjust="spacingAndGlyphs" stroke="#1a1a1a" stroke-width="0.3">值</text>
<text x="359.27" y="439.98" font-size="11.88" fill="#1a1a1a" text-anchor="middle" textLength="9.79" lengthAdjust="spacingAndGlyphs" stroke="#1a1a1a" stroke-width="0.3">动</text>
<text x="368.62" y="439.98" font-size="11.88" fill="#1a1a1a" text-anchor="middle" textLength="9.79" lengthAdjust="spacingAndGlyphs" stroke="#1a1a1a" stroke-width="0.3">态</text>
<text x="377.97" y="439.98" font-size="11.88" fill="#1a1a1a" text-anchor="middle" textLength="9.79" lengthAdjust="spacingAndGlyphs" stroke="#1a1a1a" stroke-width="0.3">检</text>
<text x="387.32" y="439.98" font-size="11.88" fill="#1a1a1a" text-anchor="middle" textLength="9.79" lengthAdjust="spacingAndGlyphs" stroke="#1a1a1a" stroke-width="0.3">修</text>
<rect x="414.1" y="424.8" width="72.7" height="20.6" rx="3" fill="#bfe0f5"/>
<text x="436.73" y="439.98" font-size="11.88" fill="#1a1a1a" text-anchor="middle" textLength="9.79" lengthAdjust="spacingAndGlyphs" stroke="#1a1a1a" stroke-width="0.3">安</text>
<text x="446.08" y="439.98" font-size="11.88" fill="#1a1a1a" text-anchor="middle" textLength="9.79" lengthAdjust="spacingAndGlyphs" stroke="#1a1a1a" stroke-width="0.3">全</text>
<text x="455.43" y="439.98" font-size="11.88" fill="#1a1a1a" text-anchor="middle" textLength="9.79" lengthAdjust="spacingAndGlyphs" stroke="#1a1a1a" stroke-width="0.3">教</text>
<text x="464.78" y="439.98" font-size="11.88" fill="#1a1a1a" text-anchor="middle" textLength="9.79" lengthAdjust="spacingAndGlyphs" stroke="#1a1a1a" stroke-width="0.3">育</text>
<line x1="168" y1="385.5" x2="520" y2="385.5" stroke="#ec6e69" stroke-width="2.2" stroke-dasharray="5 4"/>
<polygon points="525.8,385 519.8,380.8 519.8,389.2" fill="#ec6e69"/>
<path d="M572.3,208.2 H674.3 M572.3,458.8 H674.3" fill="none" stroke="#25a0ea" stroke-width="1.9" stroke-dasharray="5.8 3.5"/>
<path d="M569.8,210.7 V456.3 M676.8,210.7 V456.3" fill="none" stroke="#25a0ea" stroke-width="1.9" stroke-dasharray="8 4.3"/>
<path d="M569.8,212.2 V210.7 A2.5,2.5 0 0 1 572.3,208.2 H573.8 M672.8,208.2 H674.3 A2.5,2.5 0 0 1 676.8,210.7 V212.2 M676.8,454.8 V456.3 A2.5,2.5 0 0 1 674.3,458.8 H672.8 M573.8,458.8 H572.3 A2.5,2.5 0 0 1 569.8,456.3 V454.8" fill="none" stroke="#25a0ea" stroke-width="1.9"/>
<rect x="581.3" y="214.7" width="86.6" height="21.6" rx="4" fill="#7dc16a"/>
<text x="592.25" y="230.54" font-size="14.69" fill="#fff" text-anchor="middle" textLength="12.02" lengthAdjust="spacingAndGlyphs" stroke="#fff" stroke-width="0.3">主</text>
<text x="604.99" y="230.54" font-size="14.69" fill="#fff" text-anchor="middle" textLength="12.02" lengthAdjust="spacingAndGlyphs" stroke="#fff" stroke-width="0.3">营</text>
<text x="617.73" y="230.54" font-size="14.69" fill="#fff" text-anchor="middle" textLength="12.02" lengthAdjust="spacingAndGlyphs" stroke="#fff" stroke-width="0.3">业</text>
<text x="630.47" y="230.54" font-size="14.69" fill="#fff" text-anchor="middle" textLength="12.02" lengthAdjust="spacingAndGlyphs" stroke="#fff" stroke-width="0.3">务</text>
<text x="643.21" y="230.54" font-size="14.69" fill="#fff" text-anchor="middle" textLength="12.02" lengthAdjust="spacingAndGlyphs" stroke="#fff" stroke-width="0.3">收</text>
<text x="655.95" y="230.54" font-size="14.69" fill="#fff" text-anchor="middle" textLength="12.02" lengthAdjust="spacingAndGlyphs" stroke="#fff" stroke-width="0.3">入</text>
<rect x="580.7" y="241.9" width="87.6" height="21.2" rx="3" fill="#7cc4ef"/>
<text x="595.60" y="256.93" font-size="13.12" fill="#1a1a1a" text-anchor="middle" textLength="11.91" lengthAdjust="spacingAndGlyphs" stroke="#1a1a1a" stroke-width="0.35">供</text>
<text x="607.02" y="256.93" font-size="13.12" fill="#1a1a1a" text-anchor="middle" textLength="11.91" lengthAdjust="spacingAndGlyphs" stroke="#1a1a1a" stroke-width="0.35">电</text>
<text x="618.44" y="256.93" font-size="13.12" fill="#1a1a1a" text-anchor="middle" textLength="11.91" lengthAdjust="spacingAndGlyphs" stroke="#1a1a1a" stroke-width="0.35">供</text>
<text x="629.86" y="256.93" font-size="13.12" fill="#1a1a1a" text-anchor="middle" textLength="11.91" lengthAdjust="spacingAndGlyphs" stroke="#1a1a1a" stroke-width="0.35">热</text>
<text x="641.28" y="256.93" font-size="13.12" fill="#1a1a1a" text-anchor="middle" textLength="11.91" lengthAdjust="spacingAndGlyphs" stroke="#1a1a1a" stroke-width="0.35">营</text>
<text x="652.70" y="256.93" font-size="13.12" fill="#1a1a1a" text-anchor="middle" textLength="11.91" lengthAdjust="spacingAndGlyphs" stroke="#1a1a1a" stroke-width="0.35">销</text>
<rect x="580.4" y="280.3" width="87.3" height="20.6" rx="3" fill="#bfe0f5"/>
<text x="600.35" y="295.21" font-size="10.73" fill="#1a1a1a" text-anchor="middle" textLength="9.57" lengthAdjust="spacingAndGlyphs" stroke="#1a1a1a" stroke-width="0.3">电</text>
<text x="609.81" y="295.21" font-size="10.73" fill="#1a1a1a" text-anchor="middle" textLength="9.57" lengthAdjust="spacingAndGlyphs" stroke="#1a1a1a" stroke-width="0.3">力</text>
<text x="619.27" y="295.21" font-size="10.73" fill="#1a1a1a" text-anchor="middle" textLength="9.57" lengthAdjust="spacingAndGlyphs" stroke="#1a1a1a" stroke-width="0.3">市</text>
<text x="628.73" y="295.21" font-size="10.73" fill="#1a1a1a" text-anchor="middle" textLength="9.57" lengthAdjust="spacingAndGlyphs" stroke="#1a1a1a" stroke-width="0.3">场</text>
<text x="638.19" y="295.21" font-size="10.73" fill="#1a1a1a" text-anchor="middle" textLength="9.57" lengthAdjust="spacingAndGlyphs" stroke="#1a1a1a" stroke-width="0.3">信</text>
<text x="647.65" y="295.21" font-size="10.73" fill="#1a1a1a" text-anchor="middle" textLength="9.57" lengthAdjust="spacingAndGlyphs" stroke="#1a1a1a" stroke-width="0.3">息</text>
<rect x="580.4" y="309.2" width="87.3" height="20.6" rx="3" fill="#bfe0f5"/>
<text x="600.35" y="324.11" font-size="10.73" fill="#1a1a1a" text-anchor="middle" textLength="9.57" lengthAdjust="spacingAndGlyphs" stroke="#1a1a1a" stroke-width="0.3">电</text>
<text x="609.81" y="324.11" font-size="10.73" fill="#1a1a1a" text-anchor="middle" textLength="9.57" lengthAdjust="spacingAndGlyphs" stroke="#1a1a1a" stroke-width="0.3">量</text>
<text x="619.27" y="324.11" font-size="10.73" fill="#1a1a1a" text-anchor="middle" textLength="9.57" lengthAdjust="spacingAndGlyphs" stroke="#1a1a1a" stroke-width="0.3">完</text>
<text x="628.73" y="324.11" font-size="10.73" fill="#1a1a1a" text-anchor="middle" textLength="9.57" lengthAdjust="spacingAndGlyphs" stroke="#1a1a1a" stroke-width="0.3">成</text>
<text x="638.19" y="324.11" font-size="10.73" fill="#1a1a1a" text-anchor="middle" textLength="9.57" lengthAdjust="spacingAndGlyphs" stroke="#1a1a1a" stroke-width="0.3">情</text>
<text x="647.65" y="324.11" font-size="10.73" fill="#1a1a1a" text-anchor="middle" textLength="9.57" lengthAdjust="spacingAndGlyphs" stroke="#1a1a1a" stroke-width="0.3">况</text>
<rect x="580.4" y="339" width="87.3" height="20.6" rx="3" fill="#bfe0f5"/>
<text x="600.35" y="353.91" font-size="10.73" fill="#1a1a1a" text-anchor="middle" textLength="9.57" lengthAdjust="spacingAndGlyphs" stroke="#1a1a1a" stroke-width="0.3">利</text>
<text x="609.81" y="353.91" font-size="10.73" fill="#1a1a1a" text-anchor="middle" textLength="9.57" lengthAdjust="spacingAndGlyphs" stroke="#1a1a1a" stroke-width="0.3">用</text>
<text x="619.27" y="353.91" font-size="10.73" fill="#1a1a1a" text-anchor="middle" textLength="9.57" lengthAdjust="spacingAndGlyphs" stroke="#1a1a1a" stroke-width="0.3">小</text>
<text x="628.73" y="353.91" font-size="10.73" fill="#1a1a1a" text-anchor="middle" textLength="9.57" lengthAdjust="spacingAndGlyphs" stroke="#1a1a1a" stroke-width="0.3">时</text>
<text x="638.19" y="353.91" font-size="10.73" fill="#1a1a1a" text-anchor="middle" textLength="9.57" lengthAdjust="spacingAndGlyphs" stroke="#1a1a1a" stroke-width="0.3">对</text>
<text x="647.65" y="353.91" font-size="10.73" fill="#1a1a1a" text-anchor="middle" textLength="9.57" lengthAdjust="spacingAndGlyphs" stroke="#1a1a1a" stroke-width="0.3">标</text>
<rect x="580.4" y="367.8" width="87.3" height="20.6" rx="3" fill="#bfe0f5"/>
<text x="600.35" y="382.71" font-size="10.73" fill="#1a1a1a" text-anchor="middle" textLength="9.57" lengthAdjust="spacingAndGlyphs" stroke="#1a1a1a" stroke-width="0.3">报</text>
<text x="609.81" y="382.71" font-size="10.73" fill="#1a1a1a" text-anchor="middle" textLength="9.57" lengthAdjust="spacingAndGlyphs" stroke="#1a1a1a" stroke-width="0.3">价</text>
<text x="619.27" y="382.71" font-size="10.73" fill="#1a1a1a" text-anchor="middle" textLength="9.57" lengthAdjust="spacingAndGlyphs" stroke="#1a1a1a" stroke-width="0.3">交</text>
<text x="628.73" y="382.71" font-size="10.73" fill="#1a1a1a" text-anchor="middle" textLength="9.57" lengthAdjust="spacingAndGlyphs" stroke="#1a1a1a" stroke-width="0.3">易</text>
<text x="638.19" y="382.71" font-size="10.73" fill="#1a1a1a" text-anchor="middle" textLength="9.57" lengthAdjust="spacingAndGlyphs" stroke="#1a1a1a" stroke-width="0.3">支</text>
<text x="647.65" y="382.71" font-size="10.73" fill="#1a1a1a" text-anchor="middle" textLength="9.57" lengthAdjust="spacingAndGlyphs" stroke="#1a1a1a" stroke-width="0.3">持</text>
<rect x="580.4" y="397.5" width="87.3" height="20.6" rx="3" fill="#bfe0f5"/>
<text x="600.35" y="412.41" font-size="10.73" fill="#1a1a1a" text-anchor="middle" textLength="9.57" lengthAdjust="spacingAndGlyphs" stroke="#1a1a1a" stroke-width="0.3">客</text>
<text x="609.81" y="412.41" font-size="10.73" fill="#1a1a1a" text-anchor="middle" textLength="9.57" lengthAdjust="spacingAndGlyphs" stroke="#1a1a1a" stroke-width="0.3">户</text>
<text x="619.27" y="412.41" font-size="10.73" fill="#1a1a1a" text-anchor="middle" textLength="9.57" lengthAdjust="spacingAndGlyphs" stroke="#1a1a1a" stroke-width="0.3">合</text>
<text x="628.73" y="412.41" font-size="10.73" fill="#1a1a1a" text-anchor="middle" textLength="9.57" lengthAdjust="spacingAndGlyphs" stroke="#1a1a1a" stroke-width="0.3">同</text>
<text x="638.19" y="412.41" font-size="10.73" fill="#1a1a1a" text-anchor="middle" textLength="9.57" lengthAdjust="spacingAndGlyphs" stroke="#1a1a1a" stroke-width="0.3">结</text>
<text x="647.65" y="412.41" font-size="10.73" fill="#1a1a1a" text-anchor="middle" textLength="9.57" lengthAdjust="spacingAndGlyphs" stroke="#1a1a1a" stroke-width="0.3">算</text>
<rect x="580.4" y="426.2" width="87.3" height="20.6" rx="3" fill="#bfe0f5"/>
<text x="600.35" y="441.11" font-size="10.73" fill="#1a1a1a" text-anchor="middle" textLength="9.57" lengthAdjust="spacingAndGlyphs" stroke="#1a1a1a" stroke-width="0.3">客</text>
<text x="609.81" y="441.11" font-size="10.73" fill="#1a1a1a" text-anchor="middle" textLength="9.57" lengthAdjust="spacingAndGlyphs" stroke="#1a1a1a" stroke-width="0.3">户</text>
<text x="619.27" y="441.11" font-size="10.73" fill="#1a1a1a" text-anchor="middle" textLength="9.57" lengthAdjust="spacingAndGlyphs" stroke="#1a1a1a" stroke-width="0.3">增</text>
<text x="628.73" y="441.11" font-size="10.73" fill="#1a1a1a" text-anchor="middle" textLength="9.57" lengthAdjust="spacingAndGlyphs" stroke="#1a1a1a" stroke-width="0.3">值</text>
<text x="638.19" y="441.11" font-size="10.73" fill="#1a1a1a" text-anchor="middle" textLength="9.57" lengthAdjust="spacingAndGlyphs" stroke="#1a1a1a" stroke-width="0.3">服</text>
<text x="647.65" y="441.11" font-size="10.73" fill="#1a1a1a" text-anchor="middle" textLength="9.57" lengthAdjust="spacingAndGlyphs" stroke="#1a1a1a" stroke-width="0.3">务</text>
<line x1="544" y1="270.6" x2="678" y2="270.6" stroke="#f29a2e" stroke-width="2.4" stroke-dasharray="4.5 4"/>
<polygon points="535.9,270.5 542,266.6 542,274.6" fill="#f29a2e"/>
<g transform="translate(511,281.8) scale(0.78,1)" fill="#f29a2e"><ellipse cx="0" cy="0" rx="23.4" ry="23.4"/><polygon points="-6.00,-20.40 -3.60,-31.80 3.60,-31.80 6.00,-20.40"/><polygon points="-20.67,-5.00 -29.34,-12.78 -25.74,-19.02 -14.67,-15.40"/><polygon points="-14.67,15.40 -25.74,19.02 -29.34,12.78 -20.67,5.00"/><polygon points="6.00,20.40 3.60,31.80 -3.60,31.80 -6.00,20.40"/><polygon points="20.67,5.00 29.34,12.78 25.74,19.02 14.67,15.40"/><polygon points="14.67,-15.40 25.74,-19.02 29.34,-12.78 20.67,-5.00"/></g>
<text x="502.10" y="285.30" font-size="12.50" fill="#fff" text-anchor="middle" textLength="9.57" lengthAdjust="spacingAndGlyphs" stroke="#fff" stroke-width="0.45">优</text>
<text x="512.60" y="285.30" font-size="12.50" fill="#fff" text-anchor="middle" textLength="9.57" lengthAdjust="spacingAndGlyphs" stroke="#fff" stroke-width="0.45">收</text>
<text x="523.10" y="285.30" font-size="12.50" fill="#fff" text-anchor="middle" textLength="9.57" lengthAdjust="spacingAndGlyphs" stroke="#fff" stroke-width="0.45">入</text>
<g transform="translate(543,341) scale(0.745,1)" fill="#ec6e69"><ellipse cx="0" cy="0" rx="36.5" ry="36.5"/><polygon points="-5.40,-33.50 -4.10,-45.00 4.10,-45.00 5.40,-33.50"/><polygon points="-25.67,-22.19 -32.07,-31.84 -25.78,-37.11 -17.40,-29.13"/><polygon points="-33.93,-0.50 -45.03,-3.78 -43.60,-11.85 -32.05,-11.14"/><polygon points="-26.31,21.43 -36.92,26.05 -41.02,18.95 -31.71,12.07"/><polygon points="-6.38,33.33 -11.54,43.69 -19.24,40.88 -16.53,29.63"/><polygon points="16.53,29.63 19.24,40.88 11.54,43.69 6.38,33.33"/><polygon points="31.71,12.07 41.02,18.95 36.92,26.05 26.31,21.43"/><polygon points="32.05,-11.14 43.60,-11.85 45.03,-3.78 33.93,-0.50"/><polygon points="17.40,-29.13 25.78,-37.11 32.07,-31.84 25.67,-22.19"/></g>
<text x="529.25" y="346.15" font-size="17.08" fill="#fff" text-anchor="middle" textLength="13.30" lengthAdjust="spacingAndGlyphs" stroke="#fff" stroke-width="0.1">低</text>
<text x="543.90" y="346.15" font-size="17.08" fill="#fff" text-anchor="middle" textLength="13.30" lengthAdjust="spacingAndGlyphs" stroke="#fff" stroke-width="0.1">成</text>
<text x="558.55" y="346.15" font-size="17.08" fill="#fff" text-anchor="middle" textLength="13.30" lengthAdjust="spacingAndGlyphs" stroke="#fff" stroke-width="0.1">本</text>
<path d="M544.66,286.83 A44.6,53.6 0 0 1 577.76,374.13" fill="none" stroke="#ec6e69" stroke-width="3.9"/>
<polygon points="574.3,371.6 576,381.2 583,381" fill="#ec6e69"/>
</svg>
</body></html>
